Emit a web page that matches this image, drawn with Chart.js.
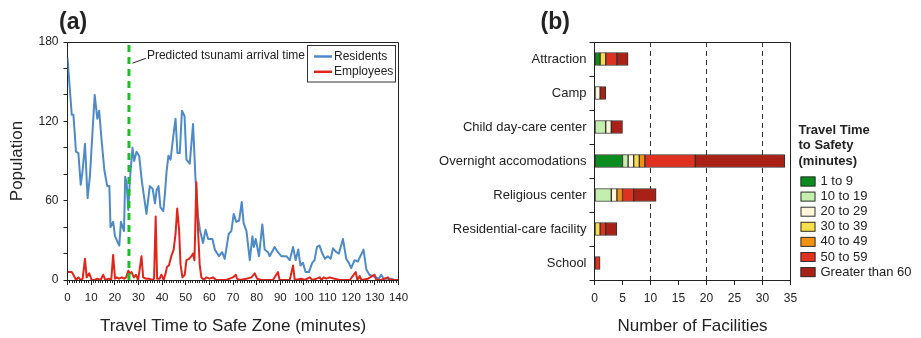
<!DOCTYPE html>
<html>
<head>
<meta charset="utf-8">
<script src="https://cdn.jsdelivr.net/npm/chart.js@4.4.1/dist/chart.umd.min.js"></script>
<style>
html,body{margin:0;padding:0;background:#fff;width:921px;height:338px;overflow:hidden;}
#wrap{position:relative;width:921px;height:338px;}
canvas{position:absolute;top:0;}
#c1{left:0;width:460px;height:338px;}
#c2{left:400px;width:521px;height:338px;}
</style>
</head>
<body>
<div id="wrap">
<canvas id="c1" width="460" height="338"></canvas>
<canvas id="c2" width="521" height="338"></canvas>
</div>
<script>
// ---------------- DATA (panel a) ----------------
const residentsMinutes = [0, 1.8, 2.5, 3.6, 4.6, 5.6, 6.4, 7.4, 8.5, 9.5,
  11.5, 12.6, 13.4, 14.4, 15.6, 16.8, 17.7, 18.2, 19.3, 20.1,
  21.9, 22.6, 23.9, 24.4, 25.0, 25.7, 26.4, 27.5, 28.2, 29.2,
  30.3, 31.5, 33.4, 34.8, 36.0, 37.0, 37.7, 38.5, 39.3, 40.5,
  41.2, 41.9, 42.7, 43.6, 44.7, 45.7, 46.5, 47.5, 48.4, 49.5,
  50.3, 51.7, 53.1, 54.1, 55.2, 56.0, 57.3, 58.4, 59.5, 61.3,
  62.3, 64.1, 65.4, 66.5, 68.2, 69.3, 70.3, 71.4, 72.6, 73.7,
  74.5, 75.7, 77.1, 78.2, 78.8, 79.6, 81.0, 82.4, 83.4, 84.8,
  85.5, 87.6, 89.0, 90.4, 92.6, 94.0, 95.4, 96.5, 97.6, 98.5,
  99.6, 100.7, 102.1, 103.5, 104.5, 105.5, 106.6, 107.8, 108.9, 110.1,
  111.3, 112.3, 113.7, 114.8, 116.5, 117.9, 119.0, 120.0, 121.4, 122.8,
  125.2, 126.4, 127.7, 129.1, 130.6, 131.7, 132.7, 133.7, 135.5, 136.9,
  138.3, 140];
const residentsCount = [168, 125, 125, 97, 96, 72, 83, 103, 62, 79,
  140, 122, 128, 106, 83, 71, 71, 40, 44, 33,
  26, 44, 37, 78, 74, 53, 76, 100, 90, 97,
  94, 74, 50, 71, 69, 58, 68, 71, 55, 52,
  65, 82, 94, 91, 108, 122, 96, 96, 128, 124,
  91, 88, 118, 78, 48, 38, 28, 38, 31, 31,
  23, 18, 21, 16, 35, 37, 50, 44, 45, 59,
  43, 37, 15, 33, 25, 31, 18, 42, 23, 21,
  18, 25, 21, 18, 18, 15, 25, 15, 23, 11,
  13, 6, 6, 13, 15, 25, 26, 20, 16, 18,
  16, 24, 21, 20, 31, 16, 13, 9, 15, 14,
  23, 8, 4, 3, 2, 1, 4, 1, 1, 1,
  0, 0];
const employeesMinutes = [0, 1.8, 2.5, 3.6, 4.6, 5.6, 6.4, 7.4, 8.1, 9.2,
  10.2, 11.5, 12.6, 14.0, 15.1, 16.0, 17.4, 18.5, 19.3, 20.1,
  20.8, 21.8, 23.0, 23.9, 24.8, 25.7, 26.4, 27.1, 28.1, 28.9,
  29.9, 31.3, 32.0, 33.1, 34.5, 35.9, 36.6, 37.3, 37.9, 39.0,
  39.7, 40.7, 41.5, 42.1, 42.9, 43.9, 44.9, 45.7, 46.4, 47.2,
  47.8, 48.6, 49.6, 50.3, 51.4, 52.4, 53.1, 53.7, 54.5, 55.2,
  55.9, 56.6, 57.7, 58.7, 60.1, 61.5, 62.9, 64.4, 67.2, 68.6,
  70.0, 71.2, 71.7, 72.8, 75.7, 77.8, 79.2, 80.2, 82.0, 84.8,
  86.9, 89.0, 89.7, 92.6, 94.0, 95.4, 96.1, 98.9, 100.3, 102.5,
  103.6, 105.3, 106.7, 107.4, 108.4, 109.5, 110.9, 113.0, 115.2, 117.3,
  119.4, 121.9, 122.6, 123.6, 124.3, 127.1, 129.9, 130.6, 132.7, 135.5,
  136.2, 138.3, 140];
const employeesCount = [6, 6, 4, 0, 2, 0, 1, 16, 2, 5,
  0, 0, 1, 0, 4, 0, 1, 0, 19, 1,
  2, 1, 2, 1, 2, 7, 5, 6, 2, 4,
  0, 18, 2, 1, 1, 0, 1, 48, 1, 1,
  4, 0, 5, 10, 11, 18, 23, 35, 54, 38,
  12, 2, 4, 15, 16, 18, 20, 15, 74, 38,
  12, 2, 0, 2, 1, 2, 0, 0, 0, 1,
  2, 4, 1, 0, 1, 2, 5, 1, 0, 0,
  0, 6, 0, 0, 0, 11, 0, 1, 0, 2,
  0, 1, 2, 0, 2, 1, 2, 1, 0, 0,
  0, 6, 0, 3, 0, 1, 4, 0, 0, 2,
  0, 0, 0];
const arrivalMinute = 26;
const minuteTickLabels = [0, 10, 20, 30, 40, 50, 60, 70, 80, 90, 100, 110, 120, 130, 140];
const populationTickLabels = [0, 60, 120, 180];

// ---------------- DATA (panel b) ----------------
const facilityTypes = ['Attraction', 'Camp', 'Child day-care center', 'Overnight accomodations',
  'Religious center', 'Residential-care facility', 'School'];
const travelClasses = ['1 to 9', '10 to 19', '20 to 29', '30 to 39', '40 to 49', '50 to 59', 'Greater than 60'];
const facilities1to9   = [1, 0, 0, 5, 0, 0, 0];
const facilities10to19 = [0, 0, 2, 1, 3, 0, 0];
const facilities20to29 = [0, 1, 1, 1, 1, 0, 0];
const facilities30to39 = [1, 0, 0, 1, 0, 1, 0];
const facilities40to49 = [0, 0, 0, 1, 1, 0, 0];
const facilities50to59 = [2, 0, 0, 9, 2, 1, 1];
const facilitiesOver60 = [2, 1, 2, 16, 4, 2, 0];
const facilityTickLabels = [0, 5, 10, 15, 20, 25, 30, 35];

// ---------------- STYLE ----------------
const FONT = "'Liberation Sans', Arial, Helvetica, sans-serif";
Chart.defaults.font.family = FONT;
Chart.defaults.color = '#222';
const INK = '#222';
const classColors = ['#0b8c1f', '#c3eeae', '#fdf6da', '#f5df4d', '#f19214', '#e0301f', '#a92116'];

const pairs = (xs, ys) => xs.map((x, i) => ({x: x, y: ys[i]}));
const crisp = v => Math.round(v - 0.5) + 0.5;

function drawFrame(chart) {
  const {ctx, chartArea: a} = chart;
  ctx.save();
  ctx.strokeStyle = INK; ctx.lineWidth = 1;
  ctx.beginPath();
  ctx.moveTo(crisp(a.left), crisp(a.top));
  ctx.lineTo(crisp(a.right), crisp(a.top));
  ctx.lineTo(crisp(a.right), crisp(a.bottom));
  ctx.stroke();
  ctx.restore();
}

// ---------------- PANEL A ----------------
const panelA = {
  id: 'panelA',
  afterDraw(chart) {
    const {ctx, chartArea: a, scales: {x, y}} = chart;
    drawFrame(chart);
    ctx.save();
    ctx.strokeStyle = INK; ctx.lineWidth = 1;
    ctx.beginPath();
    for (let m = x.min; m <= x.max; m++) {
      if (m % 10 === 0) continue;
      const px = crisp(x.getPixelForValue(m));
      ctx.moveTo(px, a.bottom); ctx.lineTo(px, a.bottom + 3);
    }
    ctx.stroke();
    ctx.beginPath();
    ctx.moveTo(x.getPixelForValue(27.5), y.getPixelForValue(164));
    ctx.lineTo(x.getPixelForValue(33.1), y.getPixelForValue(167.6));
    ctx.stroke();
    ctx.fillStyle = INK;
    ctx.font = '12px ' + FONT;
    ctx.textAlign = 'left'; ctx.textBaseline = 'middle';
    ctx.fillText('Predicted tsunami arrival time', x.getPixelForValue(33.6), y.getPixelForValue(170));
    const ds = chart.data.datasets.filter(d => d.inLegend);
    const bx = a.right - 91.5, by = a.top + 3.5, bw = 88, bh = 36.5;
    ctx.strokeStyle = '#333';
    ctx.strokeRect(crisp(bx), crisp(by), bw, bh);
    ds.forEach((d, i) => {
      const ly = by + 11 + i * 15.3;
      ctx.strokeStyle = d.borderColor; ctx.lineWidth = 2.5;
      ctx.beginPath(); ctx.moveTo(bx + 7, ly); ctx.lineTo(bx + 25, ly); ctx.stroke();
      ctx.fillStyle = INK;
      ctx.fillText(d.label, bx + 27, ly);
    });
    ctx.font = 'bold 23px ' + FONT;
    ctx.textBaseline = 'alphabetic';
    ctx.fillText('(a)', 59, 28.5);
    ctx.restore();
  }
};

new Chart(document.getElementById('c1'), {
  type: 'line',
  data: {
    datasets: [
      {
        label: 'arrival', inLegend: false,
        data: [{x: arrivalMinute, y: populationTickLabels[0]}, {x: arrivalMinute, y: populationTickLabels[populationTickLabels.length - 1]}],
        borderColor: '#1fbb2c', borderWidth: 3, borderDash: [7, 5], pointRadius: 0, order: 0
      },
      {
        label: 'Residents', inLegend: true,
        data: pairs(residentsMinutes, residentsCount),
        borderColor: '#4e8ac8', borderWidth: 2, pointRadius: 0, tension: 0, order: 2,
        borderJoinStyle: 'round'
      },
      {
        label: 'Employees', inLegend: true,
        data: pairs(employeesMinutes, employeesCount),
        borderColor: '#e0261b', borderWidth: 2, pointRadius: 0, tension: 0, order: 1,
        borderJoinStyle: 'round'
      }
    ]
  },
  options: {
    responsive: false, animation: false, devicePixelRatio: 1,
    layout: {padding: {left: 0, top: 42, right: 61.5, bottom: 0}},
    plugins: {legend: {display: false}, tooltip: {enabled: false}},
    scales: {
      x: {
        type: 'linear', min: minuteTickLabels[0], max: minuteTickLabels[minuteTickLabels.length - 1],
        afterFit: s => { s.height = 58; },
        grid: {drawOnChartArea: false, tickLength: 5, tickColor: INK},
        border: {color: INK, width: 1},
        ticks: {stepSize: 10, autoSkip: false, maxRotation: 0, padding: 6, font: {size: 11.5}, color: INK,
          callback: v => minuteTickLabels.includes(v) ? String(v) : ''},
        title: {display: true, text: 'Travel Time to Safe Zone (minutes)', font: {size: 17}, color: INK,
          padding: {top: 0, bottom: 1}}
      },
      y: {
        min: populationTickLabels[0], max: populationTickLabels[populationTickLabels.length - 1],
        afterFit: s => { s.width = 67.5; },
        grid: {drawOnChartArea: false, tickLength: 4, tickColor: INK},
        border: {color: INK, width: 1},
        ticks: {stepSize: 20, autoSkip: false, padding: 5, font: {size: 12}, color: INK,
          callback: v => populationTickLabels.includes(v) ? String(v) : ''},
        title: {display: true, text: 'Population', font: {size: 17}, color: INK, padding: {top: 7, bottom: 0}}
      }
    }
  },
  plugins: [panelA]
});

// ---------------- PANEL B ----------------
const classSeries = [facilities1to9, facilities10to19, facilities20to29, facilities30to39,
  facilities40to49, facilities50to59, facilitiesOver60];

const panelB = {
  id: 'panelB',
  afterDraw(chart) {
    const {ctx, chartArea: a} = chart;
    drawFrame(chart);
    ctx.save();
    ctx.fillStyle = INK;
    ctx.textAlign = 'left'; ctx.textBaseline = 'middle';
    ctx.font = 'bold 13px ' + FONT;
    ['Travel Time', 'to Safety', '(minutes)'].forEach((t, i) => ctx.fillText(t, a.right + 8, 130 + i * 15.5));
    ctx.font = '13px ' + FONT;
    chart.data.datasets.forEach((d, i) => {
      const cy = 181.5 + i * 15.1;
      ctx.fillStyle = d.backgroundColor;
      ctx.fillRect(a.right + 10, cy - 5, 15, 10);
      ctx.strokeStyle = '#333'; ctx.lineWidth = 1;
      ctx.strokeRect(a.right + 10.5, cy - 4.5, 14, 9);
      ctx.fillStyle = INK;
      ctx.fillText(d.label, a.right + 30, cy);
    });
    ctx.font = 'bold 23px ' + FONT;
    ctx.textBaseline = 'alphabetic';
    ctx.fillText('(b)', a.left - 54, 28.5);
    ctx.restore();
  }
};

new Chart(document.getElementById('c2'), {
  type: 'bar',
  data: {
    labels: facilityTypes,
    datasets: travelClasses.map((c, i) => ({
      label: c,
      data: classSeries[i].map(v => v === 0 ? null : v),
      backgroundColor: classColors[i],
      borderColor: '#3a3030', borderWidth: 1, borderSkipped: false,
      barThickness: 13, stack: 'all'
    }))
  },
  options: {
    indexAxis: 'y', responsive: false, animation: false, devicePixelRatio: 1,
    layout: {padding: {left: 0, top: 42, right: 130.5, bottom: 0}},
    plugins: {legend: {display: false}, tooltip: {enabled: false}},
    scales: {
      x: {
        type: 'linear', stacked: true,
        min: facilityTickLabels[0], max: facilityTickLabels[facilityTickLabels.length - 1],
        afterFit: s => { s.height = 58; },
        grid: {
          drawOnChartArea: true, tickLength: 5, tickColor: INK, lineWidth: 1,
          color: ctx => (ctx.tick && ctx.tick.value % 10 === 0 && ctx.tick.value > 0 && ctx.tick.value < 35) ? '#333' : 'rgba(0,0,0,0)'
        },
        border: {color: INK, width: 1, dash: [5, 4]},
        ticks: {stepSize: 5, autoSkip: false, maxRotation: 0, padding: 6, font: {size: 12}, color: INK,
          callback: v => facilityTickLabels.includes(v) ? String(v) : ''},
        title: {display: true, text: 'Number of Facilities', font: {size: 17}, color: INK,
          padding: {top: 0, bottom: 1}}
      },
      y: {
        type: 'category', stacked: true, offset: true,
        afterFit: s => { s.width = 194.5; },
        grid: {drawOnChartArea: false, offset: true, tickLength: 5, tickColor: INK},
        border: {color: INK, width: 1},
        ticks: {padding: 3, font: {size: 13}, color: INK, autoSkip: false}
      }
    }
  },
  plugins: [panelB]
});
</script>
</body>
</html>
